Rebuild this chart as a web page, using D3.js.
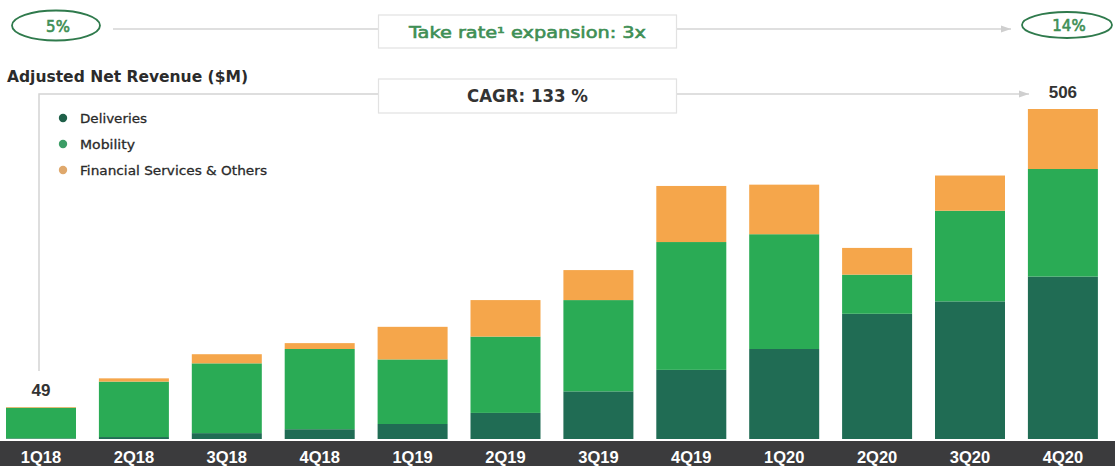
<!DOCTYPE html>
<html>
<head>
<meta charset="utf-8">
<script src="https://cdn.jsdelivr.net/npm/d3@7"></script>
<style>
  html, body { margin: 0; padding: 0; background: #fff; }
  svg { display: block; }
</style>
</head>
<body>
<svg id="chart" width="1115" height="466"></svg>
<script>
// Quarterly adjusted net revenue ($M) split by business line
const quarters = ["1Q18","2Q18","3Q18","4Q18","1Q19","2Q19","3Q19","4Q19","1Q20","2Q20","3Q20","4Q20"];
const deliveries = [1, 3, 9, 15, 23, 40, 73, 106, 138, 192, 211, 249];
const mobility   = [47, 85, 107, 123, 99, 117, 140, 196, 176, 60, 139, 165];
const financial  = [1, 5, 14, 9, 50, 56, 46, 86, 76, 41, 54, 92];
const seriesNames = ["Deliveries", "Mobility", "Financial Services & Others"];
const seriesKeys = ["deliveries", "mobility", "financial"];
const labelledTotals = { "1Q18": 49, "4Q20": 506 };
const takeRateStart = "5%";
const takeRateEnd = "14%";
const takeRateText = "Take rate\u00B9 expansion: 3x";
const cagrText = "CAGR: 133 %";
const title = "Adjusted Net Revenue ($M)";

const colors = { deliveries: "#206c54", mobility: "#2aab55", financial: "#f5a64b" };
const legendColors = { deliveries: "#1f6049", mobility: "#3c9d66", financial: "#dfa86c" };

const rows = quarters.map((q, i) => ({
  quarter: q, deliveries: deliveries[i], mobility: mobility[i], financial: financial[i]
}));

const svg = d3.select("#chart");
const W = 1115, H = 466;

const x = d3.scaleBand().domain(quarters).range([-5.45, 1109.35])
  .paddingInner(0.2465).paddingOuter(0.2465 / 2);
const y = d3.scaleLinear().domain([0, 506]).range([439, 109]);

const stack = d3.stack().keys(seriesKeys)(rows);

// stacked bars
svg.append("g").selectAll("g").data(stack).join("g")
  .attr("fill", d => colors[d.key])
  .selectAll("rect").data(d => d).join("rect")
  .attr("x", d => x(d.data.quarter))
  .attr("width", x.bandwidth())
  .attr("y", d => y(d[1]))
  .attr("height", d => y(d[0]) - y(d[1]));

// category band along the bottom
svg.append("rect").attr("x", 0).attr("y", 441).attr("width", W).attr("height", H - 441)
  .attr("fill", "#3b3b3d");
const xAxis = svg.append("g").attr("transform", "translate(0,441)")
  .call(d3.axisBottom(x).tickSize(0).tickPadding(0));
xAxis.select(".domain").remove();
xAxis.selectAll("text")
  .attr("dy", 0).attr("y", 21.5)
  .attr("fill", "#ffffff")
  .style("font-family", "'Liberation Sans', Arial, sans-serif")
  .style("font-weight", "bold")
  .style("font-size", "16.5px");

// total labels
Object.entries(labelledTotals).forEach(([q, v]) => {
  svg.append("text")
    .attr("x", x(q) + x.bandwidth() / 2)
    .attr("y", y(v) - 11)
    .attr("text-anchor", "middle")
    .attr("fill", "#333")
    .style("font-family", "'Liberation Sans', Arial, sans-serif")
    .style("font-weight", "bold")
    .style("font-size", "17px")
    .text(v);
});

// title
svg.append("text").attr("x", 7).attr("y", 82)
  .attr("fill", "#2b2b2b")
  .attr("textLength", 241).attr("lengthAdjust", "spacingAndGlyphs")
  .style("font-family", "'DejaVu Sans', sans-serif")
  .style("font-weight", "bold").style("font-size", "15px")
  .text(title);

// legend
const legend = svg.append("g");
const legendWidths = [67, 55, 187];
seriesKeys.forEach((k, i) => {
  const ly = 118 + i * 26;
  legend.append("circle").attr("cx", 63).attr("cy", ly).attr("r", 4.2).attr("fill", legendColors[k]);
  legend.append("text").attr("x", 80).attr("y", ly + 5)
    .attr("fill", "#2a2a2a").attr("stroke", "#2a2a2a").attr("stroke-width", 0.3)
    .attr("textLength", legendWidths[i]).attr("lengthAdjust", "spacingAndGlyphs")
    .style("font-family", "'DejaVu Sans', sans-serif")
    .style("font-size", "13px")
    .text(seriesNames[i]);
});

// connector lines and callout boxes
const lineColor = "#d4d4d4";
const defs = svg.append("defs");
defs.append("marker").attr("id", "arrow").attr("viewBox", "0 0 10 10")
  .attr("refX", 10).attr("refY", 5).attr("markerWidth", 7).attr("markerHeight", 7)
  .attr("orient", "auto")
  .append("path").attr("d", "M0,1.5 L10,5 L0,8.5 Z").attr("fill", "#cfcfcf");

const lines = svg.append("g").attr("stroke", lineColor).attr("stroke-width", 1.5).attr("fill", "none");
// take-rate row
lines.append("line").attr("x1", 113).attr("y1", 29).attr("x2", 378).attr("y2", 29);
lines.append("line").attr("x1", 677).attr("y1", 29).attr("x2", 1011).attr("y2", 29)
  .attr("marker-end", "url(#arrow)");
// CAGR row, rising from the first bar label
const firstCx = x(quarters[0]) + x.bandwidth() / 2;
lines.append("path").attr("d", `M${firstCx - 2},${y(49) - 36} V94 H378`);
lines.append("line").attr("x1", 677).attr("y1", 94).attr("x2", 1029).attr("y2", 94)
  .attr("marker-end", "url(#arrow)");

function calloutBox(y0, h, txt, fill, weight, size, len, stroke) {
  svg.append("rect").attr("x", 378.5).attr("y", y0).attr("width", 298).attr("height", h)
    .attr("fill", "#fff").attr("stroke", "#e2e2e2").attr("stroke-width", 1.2);
  svg.append("text").attr("x", 527.5).attr("y", y0 + h / 2 + 6)
    .attr("text-anchor", "middle").attr("fill", fill)
    .attr("stroke", fill).attr("stroke-width", stroke)
    .attr("textLength", len).attr("lengthAdjust", "spacingAndGlyphs")
    .style("font-family", "'DejaVu Sans', sans-serif")
    .style("font-weight", weight).style("font-size", size)
    .text(txt);
}
calloutBox(15, 33, takeRateText, "#3f8f55", "normal", "16px", 237, 0.6);
calloutBox(79, 34, cagrText, "#333", "bold", "17px", 121, 0);

// take-rate ovals
function oval(cx, cy, rx, ry, txt) {
  svg.append("ellipse").attr("cx", cx).attr("cy", cy).attr("rx", rx).attr("ry", ry)
    .attr("fill", "#fff").attr("stroke", "#2f7a4c").attr("stroke-width", 1.8);
  svg.append("text").attr("x", cx + 2).attr("y", cy + 6)
    .attr("text-anchor", "middle").attr("fill", "#3f8f55")
    .attr("stroke", "#3f8f55").attr("stroke-width", 0.6)
    .style("font-family", "'DejaVu Sans', sans-serif")
    .style("font-size", "15px")
    .text(txt);
}
oval(56, 25.5, 44, 15, takeRateStart);
oval(1067, 25, 45, 13, takeRateEnd);
</script>
</body>
</html>
